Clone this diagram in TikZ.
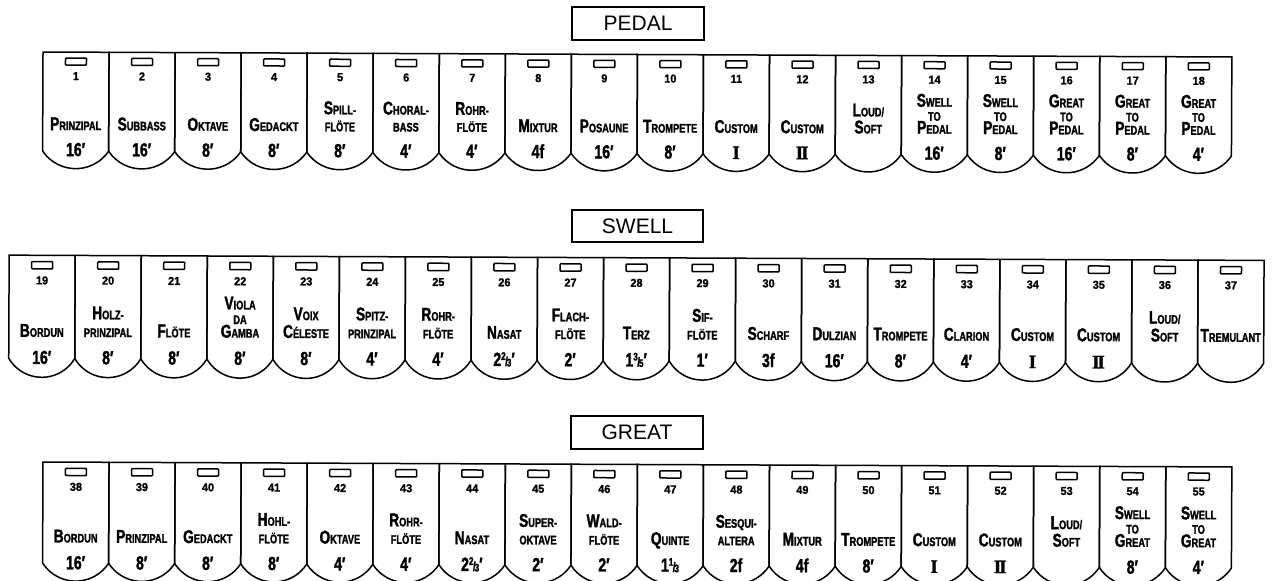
\documentclass[tikz,border=0pt]{standalone}
\usepackage{fontspec}
\setmainfont{Liberation Sans}
\newfontfamily\tabfont[FakeStretch=0.74,FakeBold=1.6]{Liberation Sans}
\newfontfamily\numfont[FakeStretch=0.95,FakeBold=1.3]{Liberation Sans}
\newfontfamily\romfont[FakeBold=1.2]{Liberation Serif}
\newcommand\capsc[2]{{\fontsize{18.5}{18.5}\selectfont #1}{\fontsize{12.5}{12.5}\selectfont #2}}
\newcommand\smc[1]{{\fontsize{12.5}{12.5}\selectfont #1}}
\newcommand\frc[2]{{\raisebox{6pt}{\fontsize{11}{11}\selectfont #1}\kern-0.5pt{\fontsize{13}{13}\selectfont /}\kern-1pt\raisebox{-0.5pt}{\fontsize{11}{11}\selectfont #2}}}
\newcommand\rI{{\romfont\bfseries I}}
\newcommand\rII{{\romfont\bfseries I\kern-2pt I}}
\newcommand\setrow[5]{\def\rowX{#1}\def\rowT{#2}\def\rowH{#3}\def\rowD{#4}\def\rowS{#5}}
\newcommand\tabbase[3]{%
  \pgfmathsetmacro\tabL{\rowX+#1*66.05}%
  \pgfmathsetmacro\tabR{\tabL+66.05}%
  \pgfmathsetmacro\tabC{\tabL+33.025}%
  \pgfmathsetmacro\tabB{\rowT+\rowH}%
  \pgfmathsetmacro\tabRad{(33.025*33.025+\rowD*\rowD)/(2*\rowD)}%
  \pgfmathsetmacro\tabAng{atan((\tabRad-\rowD)/33.025)}%
  \draw[tabline] (\tabL,\rowT) -- (\tabL,\tabB) arc[start angle=180-\tabAng, end angle=\tabAng, radius=\tabRad] -- (\tabR,\rowT) -- cycle;
  \draw[lamp] ({\tabC-10.5},{\rowT+6*\rowS}) rectangle ({\tabC+10.5},{\rowT+13*\rowS});
  \node[numtxt] (n#2) at (\tabC,{\rowT+24*\rowS}) {#2};
  \if\relax\detokenize{#3}\relax\else
  \node[foottxt] (f#2) at (\tabC,{\rowT+104*\rowS}) {#3};
  \fi}
\newcommand\TabA[4]{\tabbase{#1}{#2}{#4}%
  \node[nametxt] (a#2) at (\tabC,{\rowT+78*\rowS}) {#3};}
\newcommand\TabB[5]{\tabbase{#1}{#2}{#5}%
  \node[nametxt] (a#2) at (\tabC,{\rowT+61*\rowS}) {#3};
  \node[nametxt] (b#2) at (\tabC,{\rowT+78*\rowS}) {#4};}
\newcommand\TabC[6]{\tabbase{#1}{#2}{#6}%
  \node[nametxt] (a#2) at (\tabC,{\rowT+51*\rowS}) {#3};
  \node[nametxt] (b#2) at (\tabC,{\rowT+65*\rowS}) {#4};
  \node[nametxt] (c#2) at (\tabC,{\rowT+78*\rowS}) {#5};}
\tikzset{
  tabline/.style={line width=1.5pt, line join=miter},
  lamp/.style={line width=1.5pt, rounded corners=0.8pt},
  numtxt/.style={font=\numfont\bfseries\fontsize{11.5}{11.5}\selectfont, inner sep=0pt},
  nametxt/.style={font=\tabfont\bfseries, inner sep=0pt, anchor=base},
  foottxt/.style={font=\tabfont\bfseries\fontsize{19}{19}\selectfont, inner sep=0pt, anchor=base},
  manual/.style={draw, line width=1.3pt, minimum width=132pt, minimum height=33pt, inner sep=0pt, font=\fontsize{21}{21}\selectfont}
}
\begin{document}
\begin{tikzpicture}[x=1pt, y=-1pt]
\path[use as bounding box] (0,0) rectangle (1275,581);
\begin{scope}[rotate around={-0.24:(640,290)}]
\node[manual] (pedal) at (637,23.5) {PEDAL};
\node[manual, minimum width=131pt, minimum height=32pt] (swell) at (637.3,226) {SWELL};
\node[manual] (great) at (637.6,432.5) {GREAT};
% PEDAL
\setrow{42}{54.5}{99}{17.5}{1}
\TabA{0}{1}{\capsc{P}{RINZIPAL}}{16′}
\TabA{1}{2}{\capsc{S}{UBBASS}}{16′}
\TabA{2}{3}{\capsc{O}{KTAVE}}{8′}
\TabA{3}{4}{\capsc{G}{EDACKT}}{8′}
\TabB{4}{5}{\capsc{S}{PILL-}}{\smc{FLÖTE}}{8′}
\TabB{5}{6}{\capsc{C}{HORAL-}}{\smc{BASS}}{4′}
\TabB{6}{7}{\capsc{R}{OHR-}}{\smc{FLÖTE}}{4′}
\TabA{7}{8}{\capsc{M}{IXTUR}}{4f}
\TabA{8}{9}{\capsc{P}{OSAUNE}}{16′}
\TabA{9}{10}{\capsc{T}{ROMPETE}}{8′}
\TabA{10}{11}{\capsc{C}{USTOM}}{\rI}
\TabA{11}{12}{\capsc{C}{USTOM}}{\rII}
\TabB{12}{13}{\capsc{L}{OUD/}}{\capsc{S}{OFT}}{}
\TabC{13}{14}{\capsc{S}{WELL}}{\smc{TO}}{\capsc{P}{EDAL}}{16′}
\TabC{14}{15}{\capsc{S}{WELL}}{\smc{TO}}{\capsc{P}{EDAL}}{8′}
\TabC{15}{16}{\capsc{G}{REAT}}{\smc{TO}}{\capsc{P}{EDAL}}{16′}
\TabC{16}{17}{\capsc{G}{REAT}}{\smc{TO}}{\capsc{P}{EDAL}}{8′}
\TabC{17}{18}{\capsc{G}{REAT}}{\smc{TO}}{\capsc{P}{EDAL}}{4′}
% SWELL
\setrow{9}{257.8}{103}{19}{1.045}
\TabA{0}{19}{\capsc{B}{ORDUN}}{16′}
\TabB{1}{20}{\capsc{H}{OLZ-}}{\smc{PRINZIPAL}}{8′}
\TabA{2}{21}{\capsc{F}{LÖTE}}{8′}
\TabC{3}{22}{\capsc{V}{IOLA}}{\smc{DA}}{\capsc{G}{AMBA}}{8′}
\TabB{4}{23}{\capsc{V}{OIX}}{\capsc{C}{ÉLESTE}}{8′}
\TabB{5}{24}{\capsc{S}{PITZ-}}{\smc{PRINZIPAL}}{4′}
\TabB{6}{25}{\capsc{R}{OHR-}}{\smc{FLÖTE}}{4′}
\TabA{7}{26}{\capsc{N}{ASAT}}{2\frc{2}{3}′}
\TabB{8}{27}{\capsc{F}{LACH-}}{\smc{FLÖTE}}{2′}
\TabA{9}{28}{\capsc{T}{ERZ}}{1\frc{3}{5}′}
\TabB{10}{29}{\capsc{S}{IF-}}{\smc{FLÖTE}}{1′}
\TabA{11}{30}{\capsc{S}{CHARF}}{3f}
\TabA{12}{31}{\capsc{D}{ULZIAN}}{16′}
\TabA{13}{32}{\capsc{T}{ROMPETE}}{8′}
\TabA{14}{33}{\capsc{C}{LARION}}{4′}
\TabA{15}{34}{\capsc{C}{USTOM}}{\rI}
\TabA{16}{35}{\capsc{C}{USTOM}}{\rII}
\TabB{17}{36}{\capsc{L}{OUD/}}{\capsc{S}{OFT}}{}
\TabA{18}{37}{\capsc{T}{REMULANT}}{}
% GREAT
\setrow{43.7}{464.5}{101}{18}{1.03}
\TabA{0}{38}{\capsc{B}{ORDUN}}{16′}
\TabA{1}{39}{\capsc{P}{RINZIPAL}}{8′}
\TabA{2}{40}{\capsc{G}{EDACKT}}{8′}
\TabB{3}{41}{\capsc{H}{OHL-}}{\smc{FLÖTE}}{8′}
\TabA{4}{42}{\capsc{O}{KTAVE}}{4′}
\TabB{5}{43}{\capsc{R}{OHR-}}{\smc{FLÖTE}}{4′}
\TabA{6}{44}{\capsc{N}{ASAT}}{2\frc{2}{3}′}
\TabB{7}{45}{\capsc{S}{UPER-}}{\smc{OKTAVE}}{2′}
\TabB{8}{46}{\capsc{W}{ALD-}}{\smc{FLÖTE}}{2′}
\TabA{9}{47}{\capsc{Q}{UINTE}}{1\frc{1}{3}}
\TabB{10}{48}{\capsc{S}{ESQUI-}}{\smc{ALTERA}}{2f}
\TabA{11}{49}{\capsc{M}{IXTUR}}{4f}
\TabA{12}{50}{\capsc{T}{ROMPETE}}{8′}
\TabA{13}{51}{\capsc{C}{USTOM}}{\rI}
\TabA{14}{52}{\capsc{C}{USTOM}}{\rII}
\TabB{15}{53}{\capsc{L}{OUD/}}{\capsc{S}{OFT}}{}
\TabC{16}{54}{\capsc{S}{WELL}}{\smc{TO}}{\capsc{G}{REAT}}{8′}
\TabC{17}{55}{\capsc{S}{WELL}}{\smc{TO}}{\capsc{G}{REAT}}{4′}
\end{scope}
\end{tikzpicture}
\end{document}
